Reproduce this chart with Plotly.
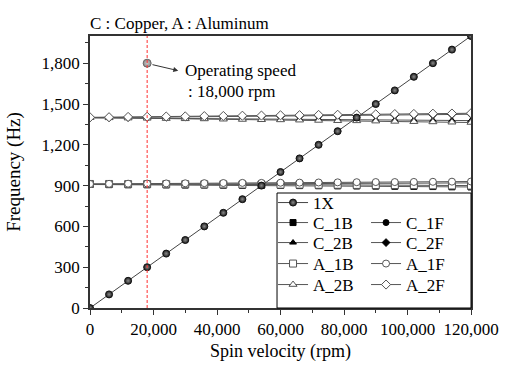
import plotly.graph_objects as go

rpm = [0, 6000, 12000, 18000, 24000, 30000, 36000, 42000, 48000, 54000, 60000,
       66000, 72000, 78000, 84000, 90000, 96000, 102000, 108000, 114000, 120000]

one_x = [0, 100, 200, 300, 400, 500, 600, 700, 800, 900, 1000,
         1100, 1200, 1300, 1400, 1500, 1600, 1700, 1800, 1900, 2000]

c_1b = [908, 907, 906, 906, 905, 904, 904, 903, 902, 901, 901,
        900, 899, 898, 897, 896, 895, 894, 893, 891, 890]
c_1f = [908, 909, 909, 910, 910, 911, 911, 912, 912, 913, 913,
        914, 915, 915, 916, 917, 917, 918, 919, 919, 920]
c_2b = [1399, 1398, 1397, 1396, 1395, 1394, 1393, 1392, 1391, 1390, 1389,
        1388, 1387, 1386, 1385, 1384, 1383, 1382, 1381, 1380, 1378]
c_2f = [1399, 1400, 1401, 1402, 1403, 1404, 1405, 1406, 1407, 1408, 1410,
        1411, 1412, 1414, 1415, 1417, 1418, 1420, 1421, 1423, 1425]
a_1b = [912, 912, 911, 911, 910, 910, 909, 909, 908, 908, 907,
        907, 906, 906, 905, 904, 904, 903, 902, 901, 900]
a_1f = [912, 913, 914, 915, 916, 917, 918, 919, 920, 920, 921,
        922, 923, 924, 925, 926, 926, 927, 928, 929, 930]
a_2b = [1400, 1398, 1396, 1395, 1393, 1391, 1390, 1388, 1386, 1384, 1383,
        1381, 1379, 1377, 1376, 1374, 1372, 1370, 1368, 1366, 1364]
a_2f = [1402, 1403, 1405, 1406, 1408, 1409, 1411, 1412, 1414, 1415, 1417,
        1418, 1420, 1421, 1423, 1424, 1426, 1427, 1429, 1430, 1432]

op_rpm = [18000]
op_freq = [1800]

FONT = "Liberation Serif"
LINE = "#555555"

# plot area geometry (px) used for legend placement
W, H = 511, 375
L, R, T, B = 88, 40, 36, 67
PH = H - T - B
PW = W - L - R


def py(row_y):
    return (H - B - row_y) / PH


def px(col_x):
    return (col_x - L) / PW


fig = go.Figure()

# (name, values, symbol, hollow?, legend)
series = [
    ("C_1B", c_1b, "square", False, "legend2"),
    ("C_1F", c_1f, "circle", False, "legend2"),
    ("C_2B", c_2b, "triangle-up", False, "legend3"),
    ("C_2F", c_2f, "diamond", False, "legend3"),
    ("A_1B", a_1b, "square", True, "legend4"),
    ("A_1F", a_1f, "circle", True, "legend4"),
    ("A_2B", a_2b, "triangle-up", True, "legend5"),
    ("A_2F", a_2f, "diamond", True, "legend5"),
]
for name, vals, sym, hollow, leg in series:
    fig.add_trace(go.Scatter(
        x=rpm, y=vals, name=name, mode="lines+markers", legend=leg,
        line=dict(color=LINE, width=1),
        marker=dict(symbol=sym, size=7 if hollow else 6,
                    color="white" if hollow else "black",
                    line=dict(color="#555555" if hollow else "black", width=1)),
    ))

fig.add_trace(go.Scatter(
    x=rpm, y=one_x, name="1X", mode="lines+markers", legend="legend",
    line=dict(color="#444444", width=1),
    marker=dict(symbol="circle", size=7, color="#1a1a1a",
                gradient=dict(type="radial", color="#8a8a8a"),
                line=dict(color="#111111", width=1)),
))

fig.add_trace(go.Scatter(
    x=op_rpm, y=op_freq, mode="markers", showlegend=False,
    marker=dict(symbol="circle", size=8, color="#8c8c8c",
                gradient=dict(type="radial", color="#c8c8c8"),
                line=dict(color="#666666", width=1)),
))

# operating speed line
fig.add_shape(type="line", xref="x", yref="y domain", x0=18000, x1=18000, y0=0, y1=1,
              line=dict(color="#ff3030", width=1, dash="3px,2px"), layer="above")

# legend box
fig.add_shape(type="rect", xref="paper", yref="paper", x0=px(276), x1=1, y0=0, y1=py(193),
              fillcolor="white", line=dict(color="black", width=1), layer="above")

fig.add_annotation(x=27800, y=1745, ax=19200, ay=1792, xref="x", yref="y", axref="x", ayref="y",
                   text="", showarrow=True, arrowhead=2, arrowsize=1, arrowwidth=1, arrowcolor="#333333")
fig.add_annotation(x=29300, y=1750, xref="x", yref="y", text="Operating speed", showarrow=False,
                   xanchor="left", yanchor="middle", font=dict(family=FONT, size=17, color="black"))
fig.add_annotation(x=30300, y=1590, xref="x", yref="y", text=": 18,000 rpm", showarrow=False,
                   xanchor="left", yanchor="middle", font=dict(family=FONT, size=17, color="black"))

leg_common = dict(xanchor="left", yanchor="middle", bgcolor="rgba(0,0,0,0)", borderwidth=0,
                  font=dict(family=FONT, size=17, color="black"), orientation="h",
                  entrywidth=48, entrywidthmode="pixels", itemwidth=30)
rows = [203, 223, 243, 264, 285]

fig.update_layout(
    width=W, height=H,
    margin=dict(l=L, r=R, t=T, b=B),
    paper_bgcolor="white", plot_bgcolor="white",
    font=dict(family=FONT, size=17, color="black"),
    title=dict(text="C : Copper, A : Aluminum", x=90 / W, xanchor="left", y=1 - 23 / H,
               yanchor="middle", font=dict(family=FONT, size=17, color="black")),
    xaxis=dict(range=[0, 120000], tickvals=[0, 20000, 40000, 60000, 80000, 100000, 120000],
               tickformat=",d", ticks="outside", ticklen=5, tickwidth=1, tickcolor="#333",
               minor=dict(ticks="outside", ticklen=3, dtick=10000, tick0=0, tickcolor="#333"),
               showline=True, linecolor="#333333", linewidth=1.5, mirror=True, showgrid=False,
               zeroline=False,
               title=dict(text="Spin velocity (rpm)", font=dict(family=FONT, size=18), standoff=6),
               tickfont=dict(family=FONT, size=17)),
    yaxis=dict(range=[0, 2000], tickvals=[0, 300, 600, 900, 1200, 1500, 1800],
               tickformat=",d", ticks="outside", ticklen=5, tickwidth=1, tickcolor="#333",
               minor=dict(ticks="outside", ticklen=3, dtick=150, tick0=0, tickcolor="#333"),
               showline=True, linecolor="#333333", linewidth=1.5, mirror=True, showgrid=False,
               zeroline=False,
               title=dict(text="Frequency (Hz)", font=dict(family=FONT, size=19), standoff=16),
               tickfont=dict(family=FONT, size=17)),
    legend=dict(x=px(272), y=py(rows[0]), **leg_common),
    legend2=dict(x=px(272), y=py(rows[1]), **leg_common),
    legend3=dict(x=px(272), y=py(rows[2]), **leg_common),
    legend4=dict(x=px(272), y=py(rows[3]), **leg_common),
    legend5=dict(x=px(272), y=py(rows[4]), **leg_common),
)

fig.write_html("out.html", config={"displayModeBar": False},
               post_script="document.body.style.margin='0';document.body.style.overflow='hidden';")
